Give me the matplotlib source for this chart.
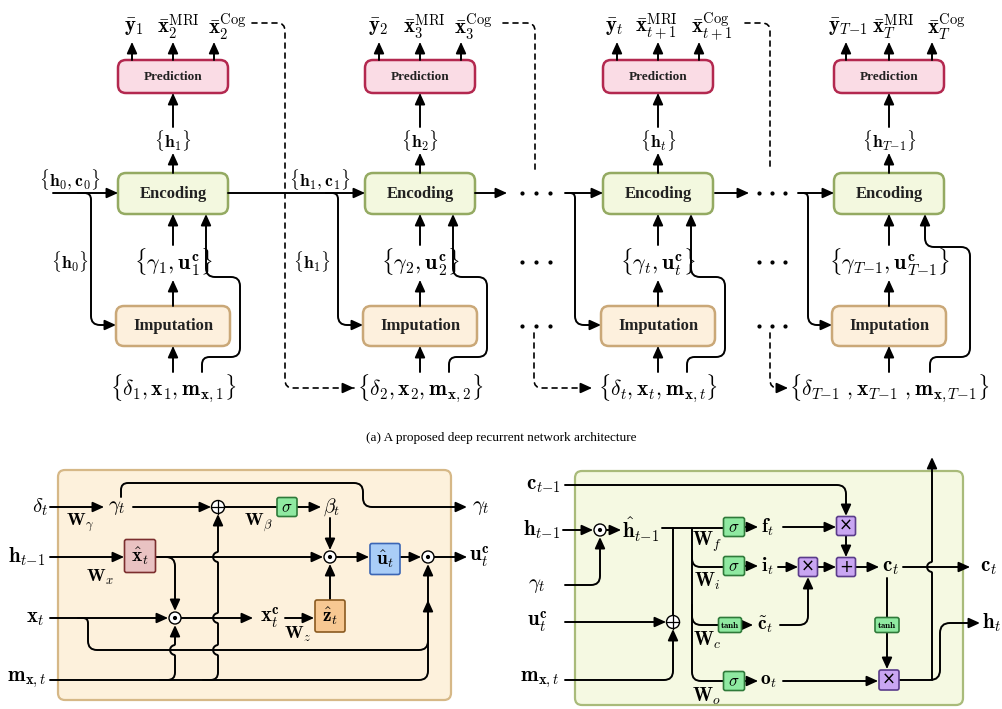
import numpy as np
import matplotlib
matplotlib.use('Agg')
import matplotlib.pyplot as plt
from matplotlib.path import Path
from matplotlib.patches import FancyArrowPatch, FancyBboxPatch, Circle

plt.rcParams['mathtext.fontset'] = 'cm'
SERIF = 'Liberation Serif'

# ---- text content ----
PRED_OUT = [
    [r'$\bar{\mathbf{y}}_1$', r'$\bar{\mathbf{x}}_2^{\mathrm{MRI}}$', r'$\bar{\mathbf{x}}_2^{\mathrm{Cog}}$'],
    [r'$\bar{\mathbf{y}}_2$', r'$\bar{\mathbf{x}}_3^{\mathrm{MRI}}$', r'$\bar{\mathbf{x}}_3^{\mathrm{Cog}}$'],
    [r'$\bar{\mathbf{y}}_t$', r'$\bar{\mathbf{x}}_{t+1}^{\mathrm{MRI}}$', r'$\bar{\mathbf{x}}_{t+1}^{\mathrm{Cog}}$'],
    [r'$\bar{\mathbf{y}}_{T{-}1}$', r'$\bar{\mathbf{x}}_{T}^{\mathrm{MRI}}$', r'$\bar{\mathbf{x}}_{T}^{\mathrm{Cog}}$'],
]
HIDDEN = [r'$\{\mathbf{h}_1\}$', r'$\{\mathbf{h}_2\}$', r'$\{\mathbf{h}_t\}$', r'$\{\mathbf{h}_{T{-}1}\}$']
IMPUTED = [r'$\{\gamma_1,\mathbf{u}_1^{\mathbf{c}}\}$', r'$\{\gamma_2,\mathbf{u}_2^{\mathbf{c}}\}$',
           r'$\{\gamma_t,\mathbf{u}_t^{\mathbf{c}}\}$', r'$\{\gamma_{T{-}1},\mathbf{u}_{T{-}1}^{\mathbf{c}}\}$']
INPUTS = [r'$\{\delta_1,\mathbf{x}_1,\mathbf{m}_{\mathbf{x},1}\}$',
          r'$\{\delta_2,\mathbf{x}_2,\mathbf{m}_{\mathbf{x},2}\}$',
          r'$\{\delta_t,\mathbf{x}_t,\mathbf{m}_{\mathbf{x},t}\}$',
          r'$\{\delta_{T{-}1}\ ,\mathbf{x}_{T{-}1}\ ,\mathbf{m}_{\mathbf{x},T{-}1}\}$']
STATES = [r'$\{\mathbf{h}_0,\mathbf{c}_0\}$', r'$\{\mathbf{h}_1,\mathbf{c}_1\}$']
STATE_H = [r'$\{\mathbf{h}_0\}$', r'$\{\mathbf{h}_1\}$']
BOX_NAMES = ['Prediction', 'Encoding', 'Imputation']
CAPTION = '(a) A proposed deep recurrent network architecture'

# ---- layout ----
CX = [173, 420, 658, 889]
OUT_SHIFT = [[-8, -16, -6], [-11, -17, -7], [-12, -23, -8], [-18, -17, -5]]
PRED_Y, ENC_Y, IMP_Y = (60, 93), (173, 214), (306, 346)
ROW_H, ROW_M, ROW_IN = 193, 262, 388

fig = plt.figure(figsize=(10.02, 7.09), dpi=100)
ax = fig.add_axes([0, 0, 1, 1])
ax.set_xlim(0, 1002)
ax.set_ylim(709, 0)
ax.axis('off')


def rpath(pts, r=8):
    verts = [pts[0]]
    codes = [Path.MOVETO]
    for i in range(1, len(pts) - 1):
        P = np.array(pts[i], float); A = np.array(pts[i-1], float); B = np.array(pts[i+1], float)
        da, db = A - P, B - P
        la, lb = np.hypot(*da), np.hypot(*db)
        rr = min(r, la / 2, lb / 2)
        verts += [tuple(P + da / la * rr), tuple(P), tuple(P + db / lb * rr)]
        codes += [Path.LINETO, Path.CURVE3, Path.CURVE3]
    verts.append(pts[-1]); codes.append(Path.LINETO)
    return Path(verts, codes)


def line(pts, arrow=True, r=8, lw=1.4, ls='-', z=3):
    style = '-|>,head_length=0.55,head_width=0.25' if arrow else '-'
    p = FancyArrowPatch(path=rpath(pts, r), arrowstyle=style, mutation_scale=12,
                        lw=lw, color='k', linestyle=ls, shrinkA=0, shrinkB=0, zorder=z)
    ax.add_patch(p)


def hop_pts(x, y_from, y_to, hops, r=5):
    # vertical line going up with leftward hops at crossing rows
    pts = [(x, y_from)]
    for yh in sorted(hops, reverse=(y_from > y_to)):
        s = 1 if y_from > y_to else -1
        for phi in np.linspace(90, -90, 9):
            pts.append((x - r * np.cos(np.radians(phi)), yh + s * r * np.sin(np.radians(phi))))
    pts.append((x, y_to))
    return pts


def dashed(pts, arrow_end=False):
    line(pts, arrow=False, ls=(0, (3, 3)), lw=1.2)
    if arrow_end:
        x1, y1 = pts[-1]
        line([(x1 - 6, y1), (x1, y1)], arrow=True)


def rbox(x0, y0, x1, y1, fc, ec, rs=8, lw=1.8, z=2):
    ax.add_patch(FancyBboxPatch((x0, y0), x1 - x0, y1 - y0,
                                boxstyle=f'round,pad=0,rounding_size={rs}',
                                fc=fc, ec=ec, lw=lw, zorder=z))


def sbox(cx, cy, w, h, fc, ec, s, fs=12, rs=2, **kw):
    rbox(cx - w / 2, cy - h / 2, cx + w / 2, cy + h / 2, fc, ec, rs=rs, lw=1.2, z=4)
    ax.text(cx, cy, s, ha='center', va='center', fontsize=fs, zorder=5, **kw)


def odot(x, y, r=6):
    ax.add_patch(Circle((x, y), r, fc='white', ec='k', lw=1.0, zorder=4))
    ax.add_patch(Circle((x, y), 1.4, fc='k', ec='k', zorder=5))


def oplus(x, y, r=6.5):
    ax.add_patch(Circle((x, y), r, fc='white', ec='k', lw=1.0, zorder=4))
    ax.plot([x - r, x + r], [y, y], color='k', lw=0.9, zorder=5)
    ax.plot([x, x], [y - r, y + r], color='k', lw=0.9, zorder=5)


def T(x, y, s, fs=13, ha='center', **kw):
    ax.text(x, y, s, ha=ha, va='center', fontsize=fs, zorder=6, **kw)


# =================== (a) top architecture ===================
for k, cx in enumerate(CX):
    rbox(cx - 55, PRED_Y[0], cx + 55, PRED_Y[1], '#fadce5', '#b3284f')
    rbox(cx - 55, ENC_Y[0], cx + 55, ENC_Y[1], '#f3f8df', '#94aa62')
    rbox(cx - 57, IMP_Y[0], cx + 57, IMP_Y[1], '#fdf0dd', '#caa878')
    ax.text(cx, sum(PRED_Y) / 2, BOX_NAMES[0], ha='center', va='center', fontsize=9.5,
            family=SERIF, weight='bold', color='#222222', zorder=5)
    ax.text(cx, sum(ENC_Y) / 2, BOX_NAMES[1], ha='center', va='center', fontsize=12,
            family=SERIF, weight='bold', color='#222222', zorder=5)
    ax.text(cx, sum(IMP_Y) / 2, BOX_NAMES[2], ha='center', va='center', fontsize=12,
            family=SERIF, weight='bold', color='#222222', zorder=5)

    off = 41 if k < 3 else 43
    for j, dx in enumerate([-off, 0, off]):
        line([(cx + dx, PRED_Y[0]), (cx + dx, 42)])
        T(cx + dx + OUT_SHIFT[k][j], 27, PRED_OUT[k][j], fs=15, ha='left')

    line([(cx, ENC_Y[0]), (cx, 153)])
    T(cx, 140, HIDDEN[k], fs=12.5)
    line([(cx, 127), (cx, PRED_Y[1])])

    line([(cx, IMP_Y[0]), (cx, 280)])
    T(cx, ROW_M, IMPUTED[k], fs=16)
    line([(cx, 245), (cx, ENC_Y[1])])

    T(cx, ROW_IN, INPUTS[k], fs=15.5)
    line([(cx, 372), (cx, IMP_Y[1])])

    # mask feedback into encoding
    if k < 3:
        mx, rx, top, lx = cx + 29, cx + 67, 277, cx + 33
    else:
        mx, rx, top, lx = cx + 41, cx + 81, 247, cx + 36
    line([(mx, 372), (mx, 357), (rx, 357), (rx, top), (lx, top), (lx, ENC_Y[1])], r=9)

# horizontal state flow
line([(53, ROW_H), (CX[0] - 55, ROW_H)])
line([(78, ROW_H), (91, ROW_H), (91, 325), (CX[0] - 57, 325)], r=9)
T(70, 180, STATES[0], fs=12.5)
T(70, ROW_M, STATE_H[0], fs=12.5)

line([(CX[0] + 55, ROW_H), (CX[1] - 55, ROW_H)])
line([(326, ROW_H), (338, ROW_H), (338, 325), (CX[1] - 57, 325)], r=9)
T(320, 180, STATES[1], fs=12.5)
T(312, ROW_M, STATE_H[1], fs=12.5)

for a0, a1, dots, b0, bx, k in [(CX[1] + 55, 507, [522, 536, 550], 566, 575, 2),
                                 (CX[2] + 57, 749, [759, 772, 785], 799, 808, 3)]:
    line([(a0, ROW_H), (a1, ROW_H)])
    for yy in [ROW_H, ROW_M, 326]:
        ax.plot(dots, [yy] * 3, 'o', color='k', ms=2.0, zorder=5)
    line([(b0, ROW_H), (CX[k] - 55, ROW_H)])
    line([(bx - 10, ROW_H), (bx, ROW_H), (bx, 325), (CX[k] - 57, 325)], r=9)

# dashed feedback of predictions
dashed([(252, 23), (285, 23), (285, ROW_IN), (354, ROW_IN)], arrow_end=True)
dashed([(503, 23), (535, 23), (535, 170)])
dashed([(534, 333), (534, ROW_IN), (592, ROW_IN)], arrow_end=True)
dashed([(745, 23), (770, 23), (770, 170)])
dashed([(770, 333), (770, ROW_IN), (788, ROW_IN)], arrow_end=True)

ax.text(501, 438, CAPTION, ha='center', va='center', fontsize=9.5, family=SERIF)

# =================== bottom-left: imputation cell ===================
rbox(58, 470, 451, 700, '#fdf1dc', '#d6b887', rs=7, lw=1.6, z=1)
Y_G, Y_H, Y_X, Y_B, Y_M = 507, 557, 618, 650, 680

T(40, Y_G, r'$\delta_t$', fs=15)
line([(50, Y_G), (104, Y_G)])
T(80, 523, r'$\mathbf{W}_\gamma$', fs=13)
T(117, Y_G, r'$\gamma_t$', fs=15)
line([(121, 497), (121, 483), (363, 483), (363, Y_G), (467, Y_G)], r=9)
T(481, Y_G, r'$\gamma_t$', fs=15)
line([(133, Y_G), (211, Y_G)])
oplus(218, Y_G)
line([(224, Y_G), (278, Y_G)], arrow=False)
sbox(287, Y_G, 20, 19, '#8fe9a1', '#2f7a3a', r'$\sigma$', fs=12)
T(258, 523, r'$\mathbf{W}_\beta$', fs=13)
line([(297, Y_G), (321, Y_G)])
T(332, Y_G, r'$\beta_t$', fs=14)
line([(330, 518), (330, 550)])

T(27, Y_H, r'$\mathbf{h}_{t{-}1}$', fs=15)
line([(50, Y_H), (124, Y_H)])
T(100, 577, r'$\mathbf{W}_x$', fs=13)
sbox(140, 556, 31, 33, '#e9c2c2', '#7b2e2e', r'$\hat{\mathbf{x}}_t$', fs=14)
line([(156, Y_H), (323, Y_H)])
line([(156, Y_H), (175, Y_H), (175, 611)], r=9)
odot(330, Y_H)
line([(336, Y_H), (369, Y_H)])
sbox(385, 559, 30, 31, '#a9cdf7', '#3b66b5', r'$\hat{\mathbf{u}}_t$', fs=14)
line([(400, Y_H), (421, Y_H)])
odot(428, Y_H)
line([(434, Y_H), (467, Y_H)])
T(479, Y_H, r'$\mathbf{u}_t^{\mathbf{c}}$', fs=15)

T(35, Y_X, r'$\mathbf{x}_t$', fs=15)
line([(50, Y_X), (168, Y_X)])
odot(175, Y_X)
line([(181, Y_X), (253, Y_X)])
T(270, Y_X, r'$\mathbf{x}_t^{\mathbf{c}}$', fs=15)
line([(285, Y_X), (314, Y_X)])
T(298, 634, r'$\mathbf{W}_z$', fs=13)
sbox(330, 616, 30, 32, '#f7c892', '#8a5a20', r'$\hat{\mathbf{z}}_t$', fs=14)
line([(330, 600), (330, 564)])

# lower routes
line([(78, Y_X), (88, Y_X), (88, Y_B), (428, Y_B), (428, 564)], r=9)
T(27, Y_M, r'$\mathbf{m}_{\mathbf{x},t}$', fs=15)
line([(50, Y_M), (428, Y_M), (428, 600)], r=9)
line([(160, Y_M), (175, Y_M)] + hop_pts(175, Y_M, 625, [Y_B])[1:], r=9)
line([(203, Y_M), (218, Y_M)] + hop_pts(218, Y_M, 514, [Y_B, Y_X, Y_H])[1:], r=9)

# =================== bottom-right: LSTM cell ===================
rbox(575, 471, 963, 705, '#f5f9e2', '#a9bb7a', rs=7, lw=1.6, z=1)
SG, PU = '#8fe9a1', '#c9a6f2'

T(543, 485, r'$\mathbf{c}_{t{-}1}$', fs=15)
line([(565, 485), (846, 485), (846, 516)], r=9)
T(542, 530, r'$\mathbf{h}_{t{-}1}$', fs=15)
line([(563, 530), (593, 530)])
odot(600, 530)
line([(606, 530), (621, 530)])
T(641, 530, r'$\hat{\mathbf{h}}_{t{-}1}$', fs=15)
T(537, 585, r'$\gamma_t$', fs=15)
line([(565, 585), (600, 585), (600, 537)], r=9)
T(537, 622, r'$\mathbf{u}_t^{\mathbf{c}}$', fs=15)
line([(565, 622), (666, 622)])
oplus(673, 622)
T(540, 680, r'$\mathbf{m}_{\mathbf{x},t}$', fs=15)
line([(565, 680), (673, 680), (673, 629)], r=9)

line([(662, 528), (724, 528)], arrow=False)
line([(673, 528), (673, 616)], arrow=False)
line([(692, 528), (692, 681), (724, 681)], arrow=False, r=9)
line([(692, 550), (692, 567), (724, 567)], arrow=False, r=9)
line([(692, 605), (692, 625), (719, 625)], arrow=False, r=9)

sbox(734, 527, 21, 19, SG, '#2f7a3a', r'$\sigma$', fs=12)
sbox(734, 566, 21, 19, SG, '#2f7a3a', r'$\sigma$', fs=12)
sbox(730, 625, 23, 15, SG, '#2f7a3a', r'$\mathbf{tanh}$', fs=6.5)
sbox(734, 681, 21, 19, SG, '#2f7a3a', r'$\sigma$', fs=12)
for yy, lab in [(542, 'f'), (581, 'i'), (640, 'c'), (696, 'o')]:
    T(707, yy, r'$\mathbf{W}_%s$' % lab, fs=14)

line([(745, 527), (758, 527)])
T(768, 527, r'$\mathbf{f}_t$', fs=14)
line([(745, 566), (758, 566)])
T(767, 566, r'$\mathbf{i}_t$', fs=14)
line([(741, 625), (753, 625)])
T(765, 625, r'$\tilde{\mathbf{c}}_t$', fs=14)
line([(745, 681), (758, 681)])
T(769, 681, r'$\mathbf{o}_t$', fs=14)

sbox(846, 526, 19, 19, PU, '#5a3c8a', '×', fs=12, family='DejaVu Sans')
sbox(846, 567, 19, 19, PU, '#5a3c8a', '+', fs=12, family='DejaVu Sans')
sbox(808, 567, 19, 19, PU, '#5a3c8a', '×', fs=12, family='DejaVu Sans')
sbox(889, 680, 20, 20, PU, '#5a3c8a', '×', fs=12, family='DejaVu Sans')
sbox(887, 625, 24, 15, SG, '#2f7a3a', r'$\mathbf{tanh}$', fs=6.5)

line([(783, 527), (836, 527)])
line([(846, 536), (846, 557)])
line([(778, 567), (798, 567)])
line([(818, 567), (836, 567)])
line([(780, 625), (808, 625), (808, 577)], r=9)
line([(856, 567), (879, 567)])
T(890, 567, r'$\mathbf{c}_t$', fs=15)
line([(903, 567), (970, 567)])
T(988, 567, r'$\mathbf{c}_t$', fs=15)
line([(887, 578), (887, 617)], arrow=False)
line([(887, 633), (887, 669)])
line([(783, 681), (878, 681)])
line([(899, 680), (940, 680), (940, 623), (980, 623)], r=10)
T(992, 623, r'$\mathbf{h}_t$', fs=15)
line(hop_pts(932, 680, 457, [567]), r=6)

fig.savefig('out.png', dpi=100)
